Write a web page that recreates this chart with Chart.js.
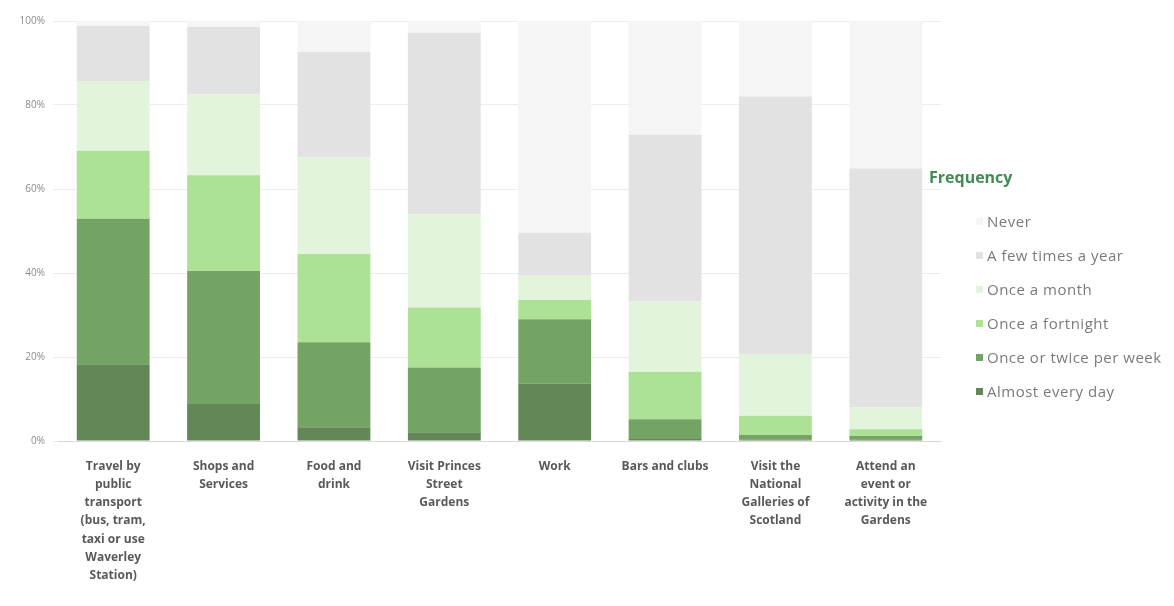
<!DOCTYPE html>
<html>
<head>
<meta charset="utf-8">
<script src="https://cdn.jsdelivr.net/npm/chart.js@4"></script>
<style>
  html, body { margin: 0; padding: 0; background: #fff; }
  .wrap { position: relative; width: 1174px; height: 606px; }
  #legend { position: absolute; left: 929px; top: 166px; font-family: "Open Sans", sans-serif; }
  #legend .title { font-weight: bold; font-size: 16px; color: #3f8c55; margin-bottom: 16px; }
  #legend ul { list-style: none; margin: 0 0 0 47px; padding: 0; }
  #legend li { display: flex; align-items: center; height: 34px; font-size: 15px; letter-spacing: 0.5px; color: #7a7a7a; }
  #legend li span { display: inline-block; width: 7px; height: 7px; margin-right: 4px; }
</style>
</head>
<body>
<div class="wrap">
  <canvas id="myChart" width="1174" height="606"></canvas>
  <div id="legend"></div>
</div>
<script>
const categories = [
  ["Travel by", "public", "transport", "(bus, tram,", "taxi or use", "Waverley", "Station)"],
  ["Shops and", "Services"],
  ["Food and", "drink"],
  ["Visit Princes", "Street", "Gardens"],
  ["Work"],
  ["Bars and clubs"],
  ["Visit the", "National", "Galleries of", "Scotland"],
  ["Attend an", "event or", "activity in the", "Gardens"],
];

const seriesNames = [
  "Almost every day",
  "Once or twice per week",
  "Once a fortnight",
  "Once a month",
  "A few times a year",
  "Never",
];

// percentages per category, bottom to top
const almostEveryDay = [18.3, 8.8, 3.3, 2.1, 13.7, 0.5, 0.3, 0.3];
const onceOrTwiceWeek = [34.6, 31.7, 20.2, 15.4, 15.3, 4.7, 1.1, 0.9];
const onceFortnight = [16.2, 22.8, 21.0, 14.3, 4.6, 11.3, 4.6, 1.6];
const onceMonth = [16.6, 19.2, 23.0, 22.2, 5.9, 16.7, 14.7, 5.2];
const fewTimesYear = [13.1, 16.1, 25.2, 43.2, 10.1, 39.7, 61.3, 56.9];
const never = [1.2, 1.4, 7.3, 2.8, 50.4, 27.1, 18.0, 35.1];

const yTicks = [0, 20, 40, 60, 80, 100];

const colors = ["#648758", "#74a464", "#ace196", "#e2f5dc", "#e2e2e2", "#f5f5f5"];
const seriesData = [almostEveryDay, onceOrTwiceWeek, onceFortnight, onceMonth, fewTimesYear, never];

const ctx = document.getElementById("myChart").getContext("2d");
const myChart = new Chart(ctx, {
  type: "bar",
  data: {
    labels: categories,
    datasets: seriesNames.map((name, i) => ({
      label: name,
      data: seriesData[i],
      backgroundColor: colors[i],
      borderWidth: 0,
      categoryPercentage: 1,
      barPercentage: 0.66,
    })),
  },
  options: {
    responsive: false,
    animation: false,
    layout: {
      padding: { left: 0, right: 233, top: 21, bottom: 0 },
    },
    scales: {
      x: {
        stacked: true,
        grid: { display: false },
        border: { display: true, color: "#d9d9d9" },
        ticks: {
          autoSkip: false,
          maxRotation: 0,
          padding: 8,
          color: "#595959",
          font: { family: "Open Sans", size: 12, weight: "bold", lineHeight: 1.52 },
        },
        afterFit: (scale) => {
          scale.height = 165;
        },
      },
      y: {
        stacked: true,
        min: 0,
        max: 100,
        afterBuildTicks: (scale) => {
          scale.ticks = yTicks.map((v) => ({ value: v }));
        },
        grid: { color: "#ececec", tickLength: 5 },
        border: { display: false },
        ticks: {
          padding: 8,
          color: "#8c8c8c",
          font: { family: "Open Sans", size: 10 },
          callback: (v) => v + "%",
        },
        afterFit: (scale) => {
          scale.width = 58;
        },
      },
    },
    plugins: {
      legend: { display: false },
      tooltip: { enabled: false },
    },
  },
});

// html legend, top entry is the last series
const legendEl = document.getElementById("legend");
const items = myChart.options.plugins.legend.labels.generateLabels(myChart).reverse();
legendEl.innerHTML =
  '<div class="title">Frequency</div><ul>' +
  items.map((it) => `<li><span style="background:${it.fillStyle}"></span>${it.text}</li>`).join("") +
  "</ul>";
</script>
</body>
</html>
